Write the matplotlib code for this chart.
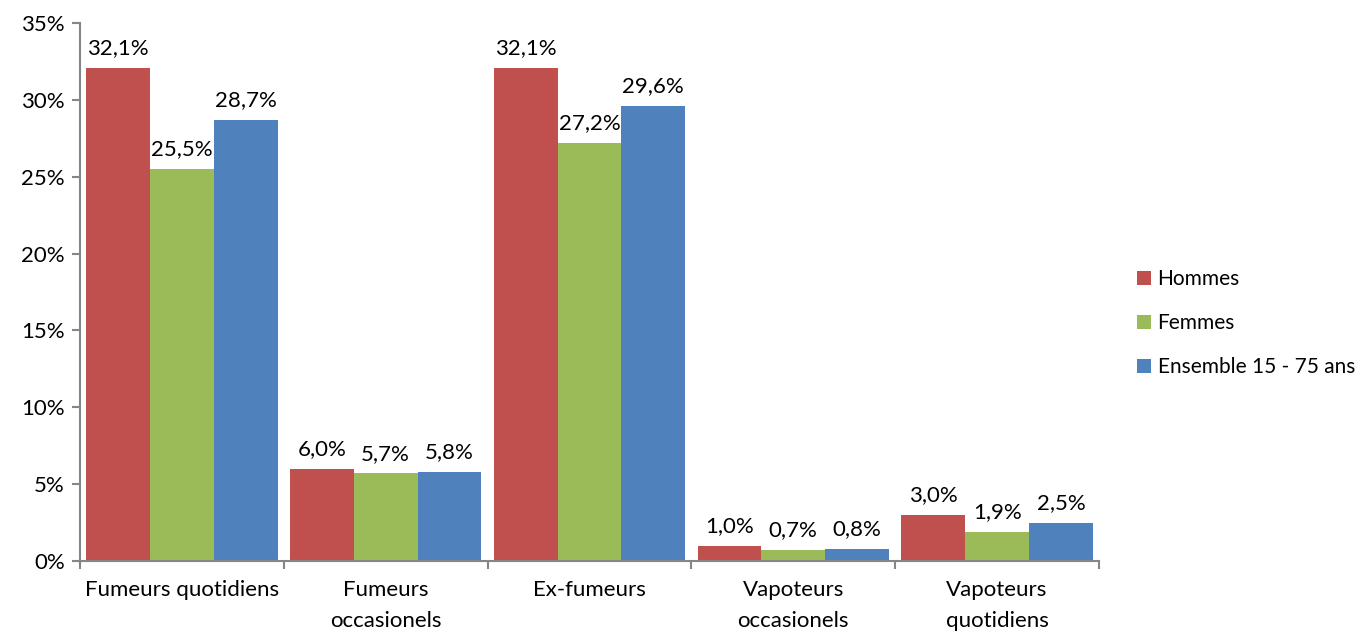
import numpy as np
import matplotlib.pyplot as plt
from matplotlib.ticker import FixedLocator, FuncFormatter

plt.rcParams['font.family'] = ['Lato', 'DejaVu Sans']

# donnees
categories = ["Fumeurs quotidiens", "Fumeurs\noccasionels", "Ex-fumeurs",
              "Vapoteurs\noccasionels", "Vapoteurs\nquotidiens"]
hommes = [32.1, 6.0, 32.1, 1.0, 3.0]
femmes = [25.5, 5.7, 27.2, 0.7, 1.9]
ensemble = [28.7, 5.8, 29.6, 0.8, 2.5]
series = ["Hommes", "Femmes", "Ensemble 15 - 75 ans"]
couleurs = ["#C0504D", "#9BBB59", "#4F81BD"]

fig = plt.figure(figsize=(13.66, 6.31), dpi=100)
ax = fig.add_axes([80/1366, 70/631, 1019/1366, 538/631])

x = np.arange(len(categories))
w = 0.313
for i, (vals, nom, c) in enumerate(zip([hommes, femmes, ensemble], series, couleurs)):
    pos = x + (i - 1) * w
    ax.bar(pos, vals, width=w, color=c, label=nom)
    for p, v in zip(pos, vals):
        ax.annotate(f"{v:.1f}%".replace(".", ","), (p, v), xytext=(0, 7),
                    textcoords="offset points", ha="center", va="bottom",
                    fontsize=16)

ax.set_xlim(-0.5, len(categories) - 0.5)
ax.set_ylim(0, 35)
ax.set_yticks(np.arange(0, 36, 5))
ax.yaxis.set_major_formatter(FuncFormatter(lambda v, _: f"{v:.0f}%"))
ax.set_xticks(x)
ax.set_xticklabels(categories, fontsize=16, linespacing=1.65, va="top")
ax.xaxis.set_minor_locator(FixedLocator(np.arange(-0.5, len(categories), 1)))
ax.tick_params(axis="x", which="major", length=0, pad=14)
ax.tick_params(axis="x", which="minor", length=6, width=1.5, color="#868686")
ax.tick_params(axis="y", length=6, width=1.5, color="#868686", labelsize=16, pad=5)

for s in ["top", "right"]:
    ax.spines[s].set_visible(False)
for s in ["left", "bottom"]:
    ax.spines[s].set_color("#868686")
    ax.spines[s].set_linewidth(1.5)

ax.legend(loc="center left", bbox_to_anchor=(1.037, 0.442), frameon=False,
          fontsize=15, handlelength=0.7, handleheight=0.7, handletextpad=0.3,
          labelspacing=1.15, borderpad=0, borderaxespad=0)

fig.savefig("out.png", dpi=100)
